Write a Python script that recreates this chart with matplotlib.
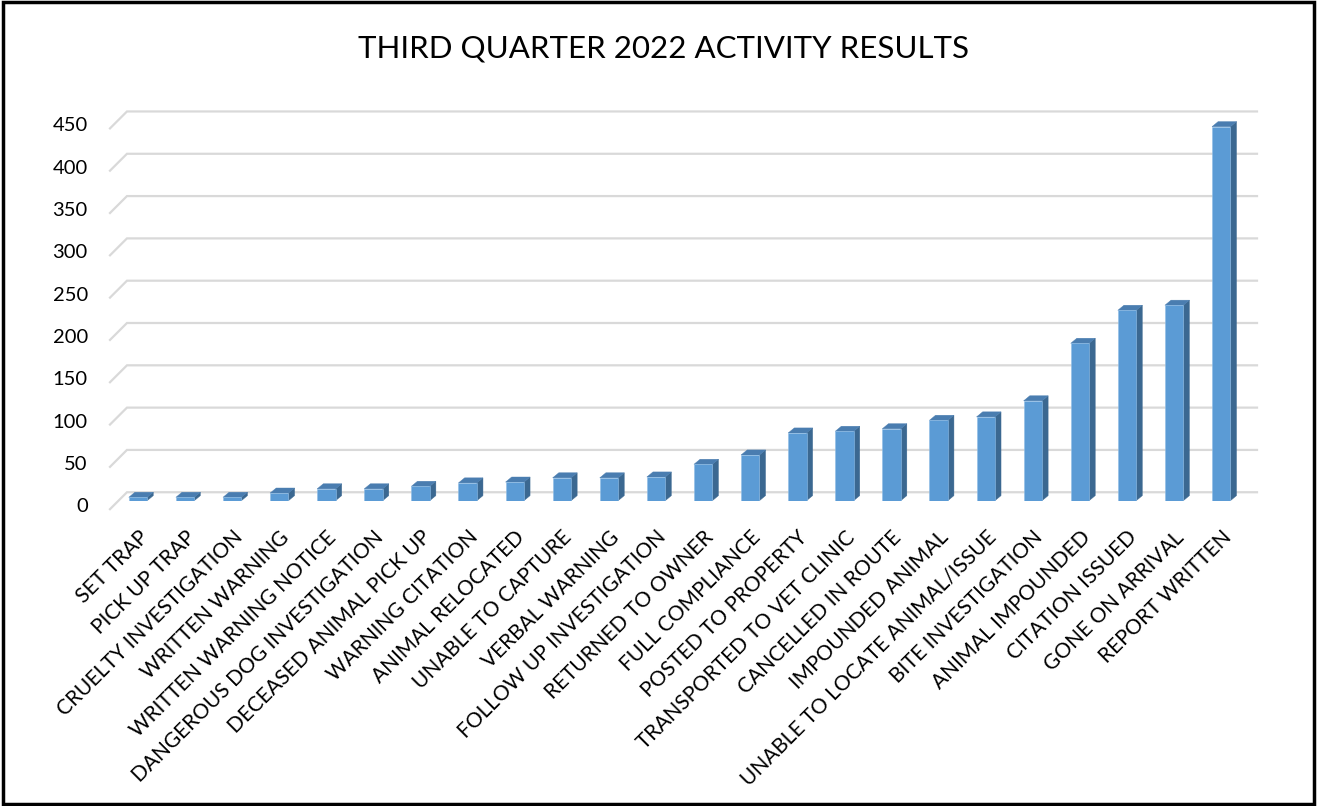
import matplotlib
matplotlib.use("Agg")
import matplotlib.pyplot as plt
from matplotlib.patches import Polygon, Rectangle
import matplotlib.transforms as mtransforms

categories = ["SET TRAP", "PICK UP TRAP", "CRUELTY INVESTIGATION", "WRITTEN WARNING",
              "WRITTEN WARNING NOTICE", "DANGEROUS DOG INVESTIGATION", "DECEASED ANIMAL PICK UP",
              "WARNING CITATION", "ANIMAL RELOCATED", "UNABLE TO CAPTURE", "VERBAL WARNING",
              "FOLLOW UP INVESTIGATION", "RETURNED TO OWNER", "FULL COMPLIANCE",
              "POSTED TO PROPERTY", "TRANSPORTED TO VET CLINIC", "CANCELLED IN ROUTE",
              "IMPOUNDED ANIMAL", "UNABLE TO LOCATE ANIMAL/ISSUE", "BITE INVESTIGATION",
              "ANIMAL IMPOUNDED", "CITATION ISSUED", "GONE ON ARRIVAL", "REPORT WRITTEN"]
values = [4, 4, 4, 9, 14, 14, 17, 21, 22, 27, 27, 28, 43, 54, 80, 82, 85, 95, 99, 118,
          186, 225, 231, 442]
yticks = [0, 50, 100, 150, 200, 250, 300, 350, 400, 450]
title = "THIRD QUARTER 2022 ACTIVITY RESULTS"

FONT = "Lato"
W, H = 1317, 806
fig = plt.figure(figsize=(W / 100, H / 100), dpi=100)
fig.patch.set_facecolor("white")

# axes placement (pixels)
left_px, right_px = 110, 1257
bottom_px, top_px = 500.7, 103.0
ax = fig.add_axes([left_px / W, (H - bottom_px) / H,
                   (right_px - left_px) / W, (bottom_px - top_px) / H])
ax.set_xlim(-0.594, 23.76)
ax.set_ylim(0, 470)
for s in ax.spines.values():
    s.set_visible(False)
ax.set_facecolor("none")

grid_c = "#d9d9d9"
back_off = 10.0
x_front, x_back, x_end = -0.594, -0.234, 23.76
for v in yticks:
    ax.plot([x_front, x_back, x_end], [v - back_off, v + back_off, v + back_off],
            color=grid_c, lw=1.6, zorder=1, solid_joinstyle="miter", clip_on=False)

front_c = "#5b9bd5"
side_c = "#3b6891"
top_c = "#4a7db0"
bw = 0.39
dx, dy = 0.13, 6.0
xs = list(range(len(categories)))
ax.bar(xs, values, width=bw, color=front_c, edgecolor="#8fbde6", linewidth=0.4, zorder=3)
for x, v in zip(xs, values):
    xl, xr = x - bw / 2, x + bw / 2
    side = Polygon([(xr, 0), (xr + dx, dy), (xr + dx, v + dy), (xr, v)],
                   closed=True, facecolor=side_c, edgecolor=side_c, lw=0.3, zorder=2)
    top = Polygon([(xl, v), (xr, v), (xr + dx, v + dy), (xl + dx, v + dy)],
                  closed=True, facecolor=top_c, edgecolor=top_c, lw=0.3, zorder=2)
    ax.add_patch(side)
    ax.add_patch(top)

# y tick labels
ax.set_yticks(yticks)
ax.set_yticklabels([str(t) for t in yticks], fontsize=14.5, family=FONT)
ax.tick_params(axis="y", length=0, pad=16)
offset = mtransforms.ScaledTranslation(0, -4.5 / 100, fig.dpi_scale_trans)
for lbl in ax.get_yticklabels():
    lbl.set_transform(lbl.get_transform() + offset)

# x tick labels
ax.set_xticks(xs)
ax.set_xticklabels(categories, rotation=45, ha="right", va="top",
                   rotation_mode="anchor", fontsize=15, family=FONT)
ax.tick_params(axis="x", length=0, pad=19)

fig.text(664 / W, (H - 48) / H, title, ha="center", va="center",
         fontsize=22.5, family=FONT, color="#000000")

# outer border
fig.add_artist(Rectangle((0.002, 0.003), 0.996, 0.994, transform=fig.transFigure,
                         fill=False, edgecolor="black", linewidth=2.5))

fig.savefig("out.png", dpi=100, facecolor="white")
